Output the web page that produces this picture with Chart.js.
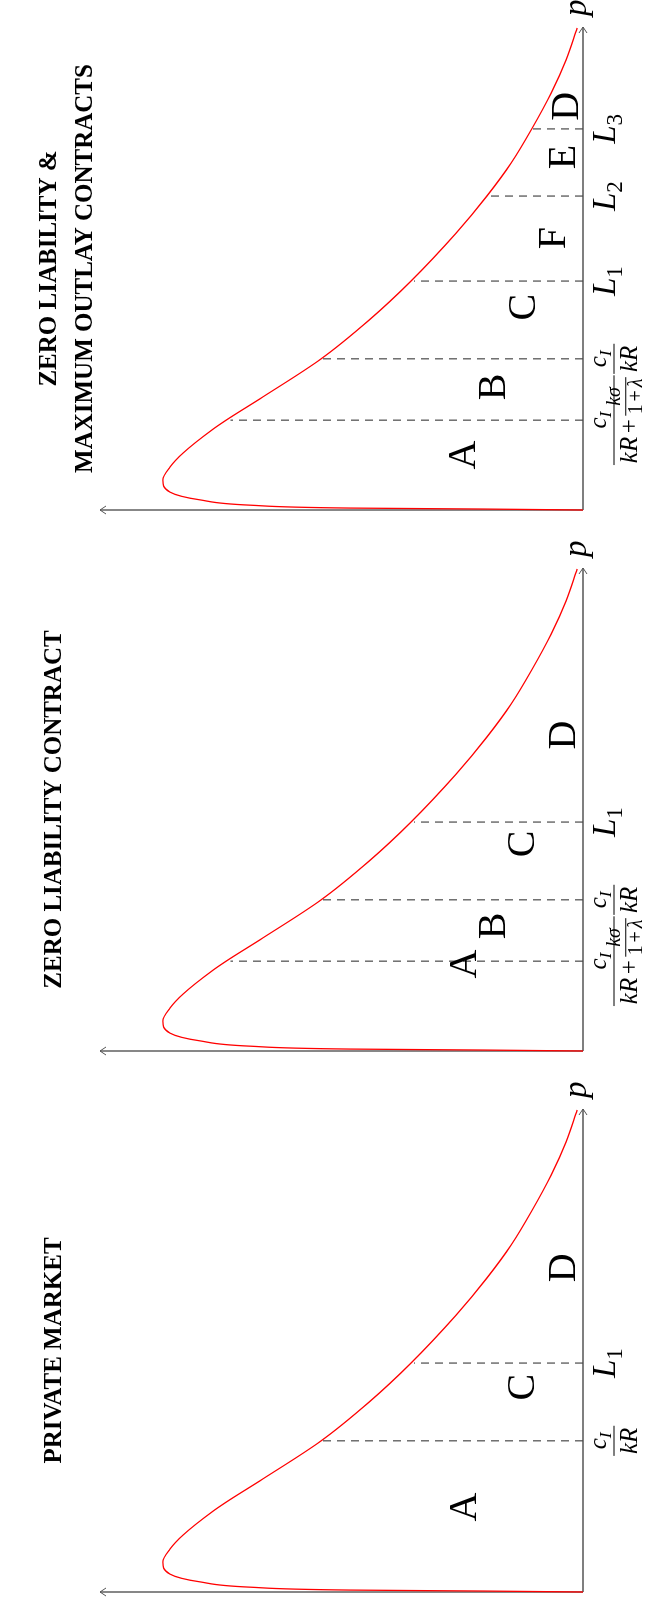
<!DOCTYPE html>
<html>
<head>
<meta charset="utf-8">
<script src="https://cdn.jsdelivr.net/npm/chart.js@4"></script>
<style>
  html, body { margin: 0; padding: 0; background: #fff; }
  body { width: 653px; height: 1607px; overflow: hidden; position: relative; }
  /* the figure is laid out in landscape and turned a quarter counter-clockwise */
  #sheet { position: absolute; left: 0; top: 0; width: 1607px; height: 653px;
           transform-origin: 0 0; transform: translateY(1607px) rotate(-90deg); }
  .panel { position: absolute; top: 0; width: 525px; height: 653px; }
</style>
</head>
<body>
<div id="sheet">
  <div class="panel" style="left:0px"><canvas id="panel0" width="525" height="653"></canvas></div>
  <div class="panel" style="left:541px"><canvas id="panel1" width="525" height="653"></canvas></div>
  <div class="panel" style="left:1082px"><canvas id="panel2" width="525" height="653"></canvas></div>
</div>
<script>
// density curve f(p) (axis arrows are at 10)
const pValues = [0, 0.02, 0.04, 0.10, 0.21, 0.37, 0.62, 0.89, 1.18, 1.66, 1.86, 2.34, 3.13, 3.93, 4.74, 5.73, 6.50, 7.18, 7.89, 8.63, 9.32, 9.98];
const density = [0, 2.07, 4.82, 6.89, 7.93, 8.55, 8.70, 8.55, 8.28, 7.68, 7.39, 6.63, 5.42, 4.43, 3.56, 2.63, 1.99, 1.49, 1.06, 0.66, 0.35, 0.12];

const titles = [['PRIVATE MARKET'], ['ZERO LIABILITY CONTRACT'], ['ZERO LIABILITY &', 'MAXIMUM OUTLAY CONTRACTS']];

const cutoffsPrivate = [3.13, 4.74];
const heightsPrivate = [5.40, 3.50];
const tickLabelsPrivate = ['c_I/kR', 'L_1'];
const regionsPrivate = ['A', 'C', 'D'];
const regionPPrivate = [1.76, 4.24, 6.71];
const regionFPrivate = [2.48, 1.28, 0.43];

const cutoffsZero = [1.86, 3.13, 4.74];
const heightsZero = [7.30, 5.40, 3.50];
const tickLabelsZero = ['c_I/kR+(kσ|1+λ)', 'c_I/kR', 'L_1'];
const regionsZero = ['A', 'B', 'C', 'D'];
const regionPZero = [1.80, 2.59, 4.29, 6.54];
const regionFZero = [2.48, 1.88, 1.28, 0.43];

const cutoffsOutlay = [1.86, 3.13, 4.74, 6.50, 7.89];
const heightsOutlay = [7.30, 5.40, 3.50, 1.97, 1.05];
const tickLabelsOutlay = ['c_I/kR+(kσ|1+λ)', 'c_I/kR', 'L_1', 'L_2', 'L_3'];
const regionsOutlay = ['A', 'B', 'C', 'F', 'E', 'D'];
const regionPOutlay = [1.14, 2.55, 4.20, 5.63, 7.31, 8.36];
const regionFOutlay = [2.51, 1.88, 1.26, 0.64, 0.43, 0.37];

const SERIF = '"Liberation Serif", "DejaVu Serif", serif';

// --- tiny math text renderer: letters italic, '_x' subscript, '(a|b)' small fraction
function glyph(ctx, ch, x, base, size, measureOnly) {
  const italic = /[A-Za-zσλ]/.test(ch);
  ctx.font = (italic ? 'italic ' : '') + size + 'px ' + SERIF;
  const pad = ch === '+' ? size * 0.14 : 0;
  const w = ctx.measureText(ch).width;
  if (!measureOnly) ctx.fillText(ch, x + pad, base);
  return w + 2 * pad;
}

function drawRun(ctx, s, x, base, size, measureOnly) {
  let w = 0, i = 0;
  while (i < s.length) {
    const ch = s[i];
    if (ch === '(') {
      const end = s.indexOf(')', i);
      const parts = s.slice(i + 1, end).split('|');
      const fs = size * 0.8;
      w += drawFrac(ctx, parts[0], parts[1], x + w, base - size * 0.45, fs, 0.28, 0.8, measureOnly);
      i = end + 1;
    } else if (ch === '_') {
      w += glyph(ctx, s[i + 1], x + w, base + size * 0.2, size * 0.7, measureOnly);
      i += 2;
    } else {
      w += glyph(ctx, ch, x + w, base, size, measureOnly);
      i += 1;
    }
  }
  return w;
}

function drawFrac(ctx, num, den, x, barY, size, upGap, downGap, measureOnly) {
  const wn = drawRun(ctx, num, 0, 0, size, true);
  const wd = drawRun(ctx, den, 0, 0, size, true);
  const W = Math.max(wn, wd) + size * 0.15;
  if (!measureOnly) {
    drawRun(ctx, num, x + (W - wn) / 2, barY - size * upGap, size, false);
    drawRun(ctx, den, x + (W - wd) / 2, barY + size * downGap, size, false);
    ctx.save();
    ctx.lineWidth = 1;
    ctx.beginPath(); ctx.moveTo(x, barY); ctx.lineTo(x + W, barY); ctx.stroke();
    ctx.restore();
  }
  return W;
}

function drawTickLabel(ctx, label, cx, axisY) {
  const slash = label.indexOf('/');
  if (slash > 0) {
    const num = label.slice(0, slash), den = label.slice(slash + 1);
    const size = 25;
    const W = drawFrac(ctx, num, den, 0, 0, size, 0.32, 0.92, true);
    drawFrac(ctx, num, den, cx - W / 2, axisY + 31, size, 0.32, 0.92, false);
  } else {
    const size = 33;
    const W = drawRun(ctx, label, 0, 0, size, true);
    drawRun(ctx, label, cx - W / 2, axisY + 32, size, false);
  }
}

function centeredText(ctx, text, cx, cy, font) {
  ctx.font = font;
  const m = ctx.measureText(text);
  const h = m.actualBoundingBoxAscent + m.actualBoundingBoxDescent;
  ctx.textAlign = 'left';
  ctx.fillText(text, cx - m.width / 2, cy + h / 2 - m.actualBoundingBoxDescent);
}

const figurePlugin = {
  id: 'figure',
  beforeDatasetsDraw(chart) {
    const { ctx, scales: { x, y } } = chart;
    const x0 = x.getPixelForValue(0), y0 = y.getPixelForValue(0);
    const xe = x.getPixelForValue(10), ye = y.getPixelForValue(10);
    ctx.save();
    ctx.strokeStyle = '#555555';
    ctx.lineWidth = 1.4;
    ctx.beginPath();
    ctx.moveTo(x0, y0); ctx.lineTo(xe, y0);
    ctx.moveTo(x0, y0); ctx.lineTo(x0, ye);
    ctx.stroke();
    ctx.lineWidth = 1;
    ctx.beginPath();
    ctx.moveTo(xe - 6, y0 - 4); ctx.lineTo(xe, y0); ctx.lineTo(xe - 6, y0 + 4);
    ctx.moveTo(x0 - 4, ye + 6); ctx.lineTo(x0, ye); ctx.lineTo(x0 + 4, ye + 6);
    ctx.stroke();
    ctx.restore();
  },
  afterDatasetsDraw(chart, args, opts) {
    const { ctx, scales: { x, y } } = chart;
    const x0 = x.getPixelForValue(0), y0 = y.getPixelForValue(0);
    const xe = x.getPixelForValue(10);
    ctx.save();
    ctx.fillStyle = '#000';
    ctx.strokeStyle = '#000';
    ctx.textBaseline = 'alphabetic';

    // title
    const lines = opts.title;
    const cx = (x0 + xe) / 2;
    const rows = lines.length === 1 ? [52] : [47, 83];
    lines.forEach((t, i) => centeredText(ctx, t, cx, rows[i], 'bold 25px ' + SERIF));

    // axis name
    ctx.font = 'italic 33px ' + SERIF;
    ctx.fillText('p', xe + 11, y0 + 3);

    // tick labels under the cut-offs
    opts.cutoffs.forEach((c, i) => drawTickLabel(ctx, opts.tickLabels[i], x.getPixelForValue(c), y0));

    // region letters
    opts.regions.forEach((r, i) => {
      centeredText(ctx, r, x.getPixelForValue(opts.regionP[i]), y.getPixelForValue(opts.regionF[i]), '40px ' + SERIF);
    });
    ctx.restore();
  }
};

function buildDatasets(cutoffs, heights) {
  const sets = [{
    label: 'density',
    data: pValues.map((p, i) => ({ x: p, y: density[i] })),
    showLine: true,
    borderColor: '#ff0000',
    borderWidth: 1.3,
    pointRadius: 0,
    cubicInterpolationMode: 'monotone',
    clip: false
  }];
  cutoffs.forEach((c, i) => sets.push({
    label: 'cutoff ' + i,
    data: [{ x: c, y: 0 }, { x: c, y: heights[i] }],
    showLine: true,
    borderColor: '#4a4a4a',
    borderWidth: 1.2,
    borderDash: [8, 6],
    pointRadius: 0,
    clip: false
  }));
  return sets;
}

function makePanel(id, title, cutoffs, heights, tickLabels, regions, regionP, regionF) {
  return new Chart(document.getElementById(id), {
    type: 'scatter',
    data: { datasets: buildDatasets(cutoffs, heights) },
    options: {
      responsive: false,
      animation: false,
      layout: { padding: { left: 15, right: 27, top: 100, bottom: 70 } },
      scales: {
        x: { type: 'linear', min: 0, max: 10, display: false },
        y: { type: 'linear', min: 0, max: 10, display: false }
      },
      plugins: {
        legend: { display: false },
        tooltip: { enabled: false },
        figure: { title, cutoffs, tickLabels, regions, regionP, regionF }
      }
    },
    plugins: [figurePlugin]
  });
}

makePanel('panel0', titles[0], cutoffsPrivate, heightsPrivate, tickLabelsPrivate, regionsPrivate, regionPPrivate, regionFPrivate);
makePanel('panel1', titles[1], cutoffsZero, heightsZero, tickLabelsZero, regionsZero, regionPZero, regionFZero);
makePanel('panel2', titles[2], cutoffsOutlay, heightsOutlay, tickLabelsOutlay, regionsOutlay, regionPOutlay, regionFOutlay);
</script>
</body>
</html>
